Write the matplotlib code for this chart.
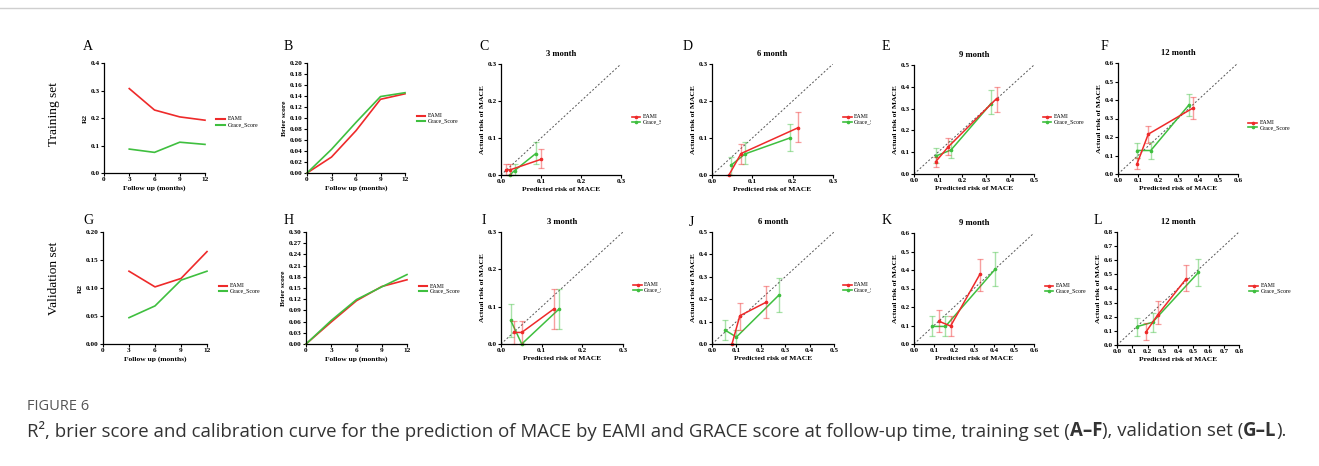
import matplotlib
matplotlib.use("Agg")
import numpy as np
import matplotlib.pyplot as plt
from matplotlib.lines import Line2D
from matplotlib.transforms import Bbox

# ---------------- data ----------------
follow_up_r2 = [3, 6, 9, 12]
follow_up_brier = [0, 3, 6, 9, 12]
month_ticks = [0, 3, 6, 9, 12]

train_r2_eami = [0.307, 0.229, 0.204, 0.192]
train_r2_grace = [0.087, 0.075, 0.112, 0.104]
train_brier_eami = [0.0, 0.029, 0.077, 0.134, 0.144]
train_brier_grace = [0.0, 0.043, 0.092, 0.139, 0.146]

valid_r2_eami = [0.130, 0.102, 0.117, 0.165]
valid_r2_grace = [0.047, 0.068, 0.114, 0.130]
valid_brier_eami = [0.0, 0.059, 0.116, 0.154, 0.172]
valid_brier_grace = [0.0, 0.063, 0.119, 0.153, 0.186]

# calibration: predicted, observed, lower CI, upper CI
t3_eami_pred = [0.013, 0.023, 0.099]
t3_eami_obs = [0.014, 0.014, 0.042]
t3_eami_lo = [0.0, 0.0, 0.020]
t3_eami_hi = [0.029, 0.029, 0.069]
t3_grace_pred = [0.022, 0.034, 0.087]
t3_grace_obs = [0.0, 0.012, 0.058]
t3_grace_lo = [0.0, 0.0, 0.030]
t3_grace_hi = [0.0, 0.029, 0.088]

t6_eami_pred = [0.042, 0.072, 0.214]
t6_eami_obs = [0.0, 0.058, 0.128]
t6_eami_lo = [0.0, 0.029, 0.090]
t6_eami_hi = [0.0, 0.085, 0.171]
t6_grace_pred = [0.048, 0.082, 0.193]
t6_grace_obs = [0.027, 0.057, 0.100]
t6_grace_lo = [0.0, 0.030, 0.066]
t6_grace_hi = [0.048, 0.088, 0.138]

t9_eami_pred = [0.090, 0.143, 0.344]
t9_eami_obs = [0.056, 0.125, 0.346]
t9_eami_lo = [0.030, 0.087, 0.285]
t9_eami_hi = [0.079, 0.165, 0.401]
t9_grace_pred = [0.090, 0.154, 0.321]
t9_grace_obs = [0.082, 0.110, 0.323]
t9_grace_lo = [0.049, 0.072, 0.273]
t9_grace_hi = [0.117, 0.152, 0.387]

t12_eami_pred = [0.095, 0.151, 0.374]
t12_eami_obs = [0.054, 0.215, 0.356]
t12_eami_lo = [0.027, 0.166, 0.298]
t12_eami_hi = [0.089, 0.262, 0.416]
t12_grace_pred = [0.095, 0.164, 0.355]
t12_grace_obs = [0.127, 0.127, 0.374]
t12_grace_lo = [0.085, 0.083, 0.311]
t12_grace_hi = [0.168, 0.172, 0.432]

v3_eami_pred = [0.033, 0.051, 0.130]
v3_eami_obs = [0.031, 0.031, 0.094]
v3_eami_lo = [0.0, 0.0, 0.041]
v3_eami_hi = [0.062, 0.062, 0.146]
v3_grace_pred = [0.024, 0.051, 0.143]
v3_grace_obs = [0.063, 0.0, 0.094]
v3_grace_lo = [0.020, 0.0, 0.041]
v3_grace_hi = [0.106, 0.0, 0.146]

v6_eami_pred = [0.082, 0.114, 0.221]
v6_eami_obs = [0.0, 0.126, 0.186]
v6_eami_lo = [0.0, 0.061, 0.116]
v6_eami_hi = [0.0, 0.183, 0.257]
v6_grace_pred = [0.055, 0.100, 0.273]
v6_grace_obs = [0.061, 0.031, 0.217]
v6_grace_lo = [0.016, 0.0, 0.143]
v6_grace_hi = [0.106, 0.061, 0.295]

v9_eami_pred = [0.127, 0.183, 0.330]
v9_eami_obs = [0.122, 0.097, 0.378]
v9_eami_lo = [0.063, 0.041, 0.289]
v9_eami_hi = [0.185, 0.149, 0.462]
v9_grace_pred = [0.092, 0.157, 0.405]
v9_grace_obs = [0.095, 0.095, 0.403]
v9_grace_lo = [0.041, 0.041, 0.315]
v9_grace_hi = [0.149, 0.149, 0.495]

v12_eami_pred = [0.192, 0.268, 0.453]
v12_eami_obs = [0.095, 0.215, 0.468]
v12_eami_lo = [0.036, 0.149, 0.379]
v12_eami_hi = [0.154, 0.308, 0.568]
v12_grace_pred = [0.131, 0.233, 0.534]
v12_grace_obs = [0.130, 0.161, 0.514]
v12_grace_lo = [0.064, 0.090, 0.419]
v12_grace_hi = [0.189, 0.225, 0.608]

series_labels = ["EAMI", "Grace_Score"]
panel_letters = list("ABCDEFGHIJKL")
row_labels = ["Training set", "Validation set"]
caption_head = "FIGURE 6"
caption_parts = [
    ("R\u00b2, brier score and calibration curve for the prediction of MACE by EAMI and GRACE score at follow-up time, training set (", "normal"),
    ("A\u2013F", "bold"),
    ("), validation set (", "normal"),
    ("G\u2013L", "bold"),
    (").", "normal"),
]

# ---------------- style ----------------
RED = "#ee2a2a"
GREEN = "#3fbf3f"
SERIF = ["Liberation Serif", "DejaVu Serif"]
SANS = ["Open Sans", "DejaVu Sans"]
W, H = 1319, 466

fig = plt.figure(figsize=(W / 100, H / 100), dpi=100)
fig.patch.set_facecolor("white")


def fx(x):
    return x / W


def fy(y):
    return 1 - y / H


def add_ax(x0, y0, x1, y1):
    return fig.add_axes([fx(x0), fy(y1), (x1 - x0) / W, (y1 - y0) / H])


def style(ax, xlim, ylim, xticks, yticks, xdec, ydec, xlabel, ylabel, xpad=2, ypad=2):
    for s in ["top", "right"]:
        ax.spines[s].set_visible(False)
    for s in ["left", "bottom"]:
        ax.spines[s].set_linewidth(0.9)
    ax.set_xlim(*xlim)
    ax.set_ylim(*ylim)
    ax.set_xticks(xticks)
    ax.set_yticks(yticks)
    ax.set_xticklabels([f"{v:.{xdec}f}" for v in xticks])
    ax.set_yticklabels([f"{v:.{ydec}f}" for v in yticks])
    ax.tick_params(length=2, width=0.8, pad=1, labelsize=5.2)
    for lab in ax.get_xticklabels() + ax.get_yticklabels():
        lab.set_fontfamily(SERIF)
        lab.set_fontweight("bold")
    ax.set_xlabel(xlabel, fontsize=5.4, fontweight="bold", family=SERIF, labelpad=xpad)
    ax.set_ylabel(ylabel, fontsize=5.4, fontweight="bold", family=SERIF, labelpad=ypad)
    ax.patch.set_alpha(0)


def legend(x0, x1, xt, ys, markers=False, clip=None):
    for y, c, lab in zip(ys, [RED, GREEN], series_labels):
        fig.add_artist(Line2D([fx(x0), fx(x1)], [fy(y)] * 2, color=c,
                              lw=1.2 if markers else 1.5, transform=fig.transFigure))
        if markers:
            fig.add_artist(Line2D([fx((x0 + x1) / 2)], [fy(y)], color=c, marker="o",
                                  ms=1.6, transform=fig.transFigure))
        t = fig.text(fx(xt), fy(y), lab, fontsize=4.2, va="center", ha="left", family=SERIF)
        if clip is not None:
            t.set_clip_box(Bbox([[0, 0], [clip, H]]))
            t.set_clip_on(True)


def metric_panel(box, xs, e, g, ylim, yticks, ydec, ylabel):
    ax = add_ax(*box)
    ax.plot(xs, e, color=RED, lw=1.2, clip_on=False)
    ax.plot(xs, g, color=GREEN, lw=1.2, clip_on=False)
    style(ax, (0, 12), ylim, month_ticks, yticks, 0, ydec, "Follow up (months)", ylabel,
          xpad=2, ypad=2)
    return ax


def calib_panel(box, lim, step, title, e, g):
    ax = add_ax(*box)
    ax.plot([0, lim], [0, lim], ls=(0, (2, 2)), color="#555555", lw=0.7)
    for (pred, obs, lo, hi), c in [(g, GREEN), (e, RED)]:
        pred = np.array(pred); obs = np.array(obs)
        lo = np.array(lo); hi = np.array(hi)
        ax.errorbar(pred, obs, yerr=[obs - lo, hi - obs], fmt="none", ecolor=c,
                    alpha=0.45, elinewidth=1.0, capsize=2.2, capthick=0.9, clip_on=False)
        ax.plot(pred, obs, color=c, lw=1.1, marker="o", ms=1.6, clip_on=False)
    ticks = np.round(np.arange(0, lim + 1e-9, step), 2)
    style(ax, (0, lim), (0, lim), ticks, ticks, 1, 1,
          "Predicted risk of MACE", "Actual risk of MACE", xpad=2, ypad=2)
    ax.set_title(title, fontsize=6.2, fontweight="bold", family=SERIF, pad=6)
    return ax


# ---------------- top row ----------------
metric_panel((104, 63, 205, 173), follow_up_r2, train_r2_eami, train_r2_grace,
             (0, 0.4), np.round(np.arange(0, 0.41, 0.1), 2), 1, "R2")
legend(216, 225, 228, [119, 125])

metric_panel((307, 63, 405, 173), follow_up_brier, train_brier_eami, train_brier_grace,
             (0, 0.2), np.round(np.arange(0, 0.201, 0.02), 2), 2, "Brier score")
legend(417, 425, 428, [115.5, 121])

calib_panel((501, 64, 621, 175), 0.3, 0.1, "3 month",
            (t3_eami_pred, t3_eami_obs, t3_eami_lo, t3_eami_hi),
            (t3_grace_pred, t3_grace_obs, t3_grace_lo, t3_grace_hi))
legend(632, 640, 643, [116.5, 122], markers=True, clip=661)

calib_panel((712, 64, 833, 175), 0.3, 0.1, "6 month",
            (t6_eami_pred, t6_eami_obs, t6_eami_lo, t6_eami_hi),
            (t6_grace_pred, t6_grace_obs, t6_grace_lo, t6_grace_hi))
legend(843, 852, 854, [116.5, 122], markers=True, clip=871)

calib_panel((914, 65, 1034, 174), 0.5, 0.1, "9 month",
            (t9_eami_pred, t9_eami_obs, t9_eami_lo, t9_eami_hi),
            (t9_grace_pred, t9_grace_obs, t9_grace_lo, t9_grace_hi))
legend(1043, 1051, 1054, [116.5, 121.5], markers=True)

calib_panel((1118, 63, 1238, 174), 0.6, 0.1, "12 month",
            (t12_eami_pred, t12_eami_obs, t12_eami_lo, t12_eami_hi),
            (t12_grace_pred, t12_grace_obs, t12_grace_lo, t12_grace_hi))
legend(1248, 1257, 1259.5, [122.5, 127.5], markers=True)

# ---------------- bottom row ----------------
metric_panel((103, 232, 207, 344), follow_up_r2, valid_r2_eami, valid_r2_grace,
             (0, 0.2), np.round(np.arange(0, 0.201, 0.05), 2), 2, "R2")
legend(219, 227, 230, [285.7, 290.7])

metric_panel((306, 232, 407, 344), follow_up_brier, valid_brier_eami, valid_brier_grace,
             (0, 0.3), np.round(np.arange(0, 0.301, 0.03), 2), 2, "Brier score")
legend(419, 427, 429.5, [286, 291])

calib_panel((501, 232, 623, 344), 0.3, 0.1, "3 month",
            (v3_eami_pred, v3_eami_obs, v3_eami_lo, v3_eami_hi),
            (v3_grace_pred, v3_grace_obs, v3_grace_lo, v3_grace_hi))
legend(633, 642, 644, [285, 290], markers=True, clip=661)

calib_panel((712, 232, 834, 344), 0.5, 0.1, "6 month",
            (v6_eami_pred, v6_eami_obs, v6_eami_lo, v6_eami_hi),
            (v6_grace_pred, v6_grace_obs, v6_grace_lo, v6_grace_hi))
legend(843, 852, 853.5, [285, 290], markers=True, clip=871)

calib_panel((914, 233, 1034, 344), 0.6, 0.1, "9 month",
            (v9_eami_pred, v9_eami_obs, v9_eami_lo, v9_eami_hi),
            (v9_grace_pred, v9_grace_obs, v9_grace_lo, v9_grace_hi))
legend(1045, 1053, 1056, [285.7, 290.7], markers=True)

calib_panel((1117, 232, 1239, 345), 0.8, 0.1, "12 month",
            (v12_eami_pred, v12_eami_obs, v12_eami_lo, v12_eami_hi),
            (v12_grace_pred, v12_grace_obs, v12_grace_lo, v12_grace_hi))
legend(1249, 1258, 1261, [285.7, 290.7], markers=True)

# ---------------- panel letters & row labels ----------------
letter_pos = [(88, 47), (288, 47), (484, 47), (688, 47), (886, 47), (1104, 47),
              (88, 220), (289, 220), (484, 221), (691, 222), (887, 220), (1098, 221)]
for letter, (x, y) in zip(panel_letters, letter_pos):
    fig.text(fx(x), fy(y), letter, fontsize=10, family=SERIF, ha="center", va="center")

fig.text(fx(54), fy(114), row_labels[0], fontsize=9.6, family=SERIF, rotation=90,
         ha="center", va="center")
fig.text(fx(54), fy(278), row_labels[1], fontsize=9.6, family=SERIF, rotation=90,
         ha="center", va="center")

# ---------------- frame & caption ----------------
fig.add_artist(Line2D([0, 1], [fy(8)] * 2, color="#cfcfcf", lw=1, transform=fig.transFigure))

fig.text(fx(27), fy(406), caption_head, fontsize=10.5, family=SANS,
         color="#555555", ha="left", va="center")

renderer = fig.canvas.get_renderer()
xcur = 27.0
for txt, wt in caption_parts:
    t = fig.text(fx(xcur), fy(431), txt, fontsize=13.4, family=SANS,
                 fontweight=wt, color="#333333", ha="left", va="center")
    bb = t.get_window_extent(renderer=renderer)
    xcur += bb.width

fig.savefig("out.png", dpi=100)
